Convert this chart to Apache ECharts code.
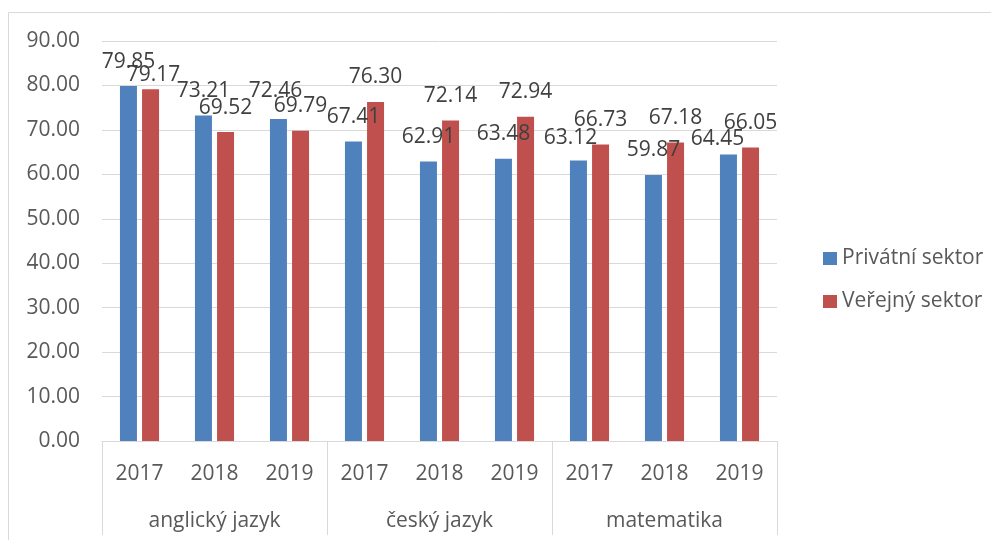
<!DOCTYPE html>
<html>
<head>
<meta charset="utf-8">
<script src="https://cdn.jsdelivr.net/npm/echarts@6/dist/echarts.min.js"></script>
<style>
html,body{margin:0;padding:0;background:#fff;}
#chart{width:991px;height:540px;}
</style>
</head>
<body>
<div id="chart"></div>
<script>
// ---- data ----
var groups = ['anglický jazyk', 'český jazyk', 'matematika'];
var years = ['2017', '2018', '2019'];
var seriesNames = ['Privátní sektor', 'Veřejný sektor'];
var privatni = [79.85, 73.21, 72.46, 67.41, 62.91, 63.48, 63.12, 59.87, 64.45];
var verejny  = [79.17, 69.52, 69.79, 76.30, 72.14, 72.94, 66.73, 67.18, 66.05];
var yTicks = [0, 10, 20, 30, 40, 50, 60, 70, 80, 90];

// ---- build ----
var categories = [];
groups.forEach(function () { years.forEach(function (y) { categories.push(y); }); });

// manual label nudges (as in the original chart)
var labelNudge = {
  '1-0': [3, 10],
  '0-2': [-3, -3],
  '0-6': [-8, 2],
  '0-8': [-11, 9]
};
function buildData(vals, si) {
  return vals.map(function (v, i) {
    var n = labelNudge[si + '-' + i];
    return n ? { value: v, label: { offset: n } } : v;
  });
}

var FONT = '"Open Sans", "Noto Sans", sans-serif';
var gridColor = '#d9d9d9';

var chart = echarts.init(document.getElementById('chart'));
chart.setOption({
  animation: false,
  textStyle: { fontFamily: FONT },
  graphic: [{
    type: 'rect',
    shape: { x: 8.5, y: 12.5, width: 1100, height: 700 },
    style: { fill: 'none', stroke: gridColor, lineWidth: 1 },
    silent: true
  }],
  grid: { left: 102, right: 214, top: 41, bottom: 99, containLabel: false },
  legend: {
    orient: 'vertical',
    left: 818,
    top: 243,
    itemWidth: 14,
    itemHeight: 13,
    itemGap: 22,
    icon: 'rect',
    textStyle: { fontFamily: FONT, fontSize: 21, color: '#595959' },
    data: seriesNames
  },
  xAxis: [{
    type: 'category',
    data: categories,
    position: 'bottom',
    axisLine: { show: true, lineStyle: { color: gridColor } },
    axisTick: { show: false },
    axisLabel: { fontFamily: FONT, fontSize: 21, color: '#595959', margin: 23, interval: 0 }
  }, {
    type: 'category',
    data: groups,
    position: 'bottom',
    axisLine: { show: false },
    axisTick: { show: true, length: 94, lineStyle: { color: gridColor } },
    axisLabel: { fontFamily: FONT, fontSize: 21, color: '#595959', margin: 70, interval: 0 }
  }],
  yAxis: {
    type: 'value',
    min: yTicks[0],
    max: yTicks[yTicks.length - 1],
    interval: 10,
    axisLine: { show: false },
    axisTick: { show: false },
    splitLine: { lineStyle: { color: gridColor, width: 1 } },
    axisLabel: {
      fontFamily: FONT, fontSize: 21, color: '#595959', margin: 22,
      formatter: function (v) { return v.toFixed(2); }
    }
  },
  series: [{
    name: seriesNames[0],
    type: 'bar',
    xAxisIndex: 0,
    data: buildData(privatni, 0),
    barWidth: 17,
    barGap: '30%',
    itemStyle: { color: '#4F81BD' },
    label: {
      show: true, position: 'top', distance: 14,
      fontFamily: FONT, fontSize: 21, color: '#404040',
      formatter: function (p) { return p.value.toFixed(2); }
    }
  }, {
    name: seriesNames[1],
    type: 'bar',
    xAxisIndex: 0,
    data: buildData(verejny, 1),
    barWidth: 17,
    barGap: '30%',
    itemStyle: { color: '#C0504D' },
    label: {
      show: true, position: 'top', distance: 14,
      fontFamily: FONT, fontSize: 21, color: '#404040',
      formatter: function (p) { return p.value.toFixed(2); }
    }
  }]
});
</script>
</body>
</html>
